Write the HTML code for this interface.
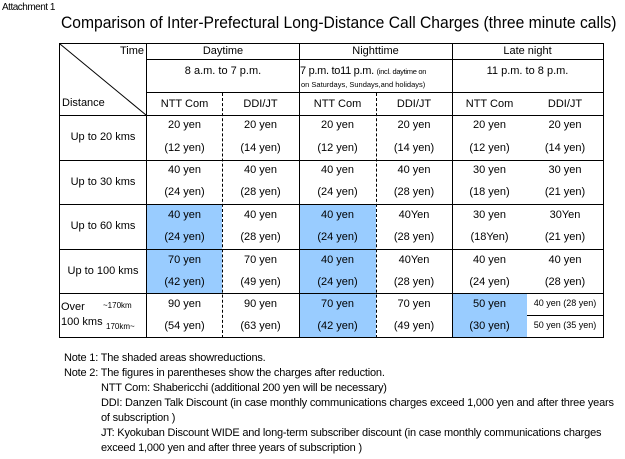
<!DOCTYPE html>
<html><head><meta charset="utf-8"><style>
body{margin:0;width:625px;height:459px;background:#fff;position:relative;overflow:hidden;font-family:"Liberation Sans",sans-serif;color:#000}
.a{position:absolute}
.h{position:absolute;height:1px;background:#000}
.v{position:absolute;width:1px;background:#000}
.d{position:absolute;width:0;border-left:1px dashed #000}
.c{position:absolute;text-align:center;font-size:11px;white-space:nowrap}
.s{position:absolute;background:#99ccff}
.n{position:absolute;font-size:11px;letter-spacing:-0.2px;white-space:nowrap}
</style></head><body>
<div class="a" style="left:2px;top:2px;font-size:10px;letter-spacing:-0.5px">Attachment 1</div>
<div class="a" style="left:61px;top:13px;font-size:17px;white-space:nowrap;transform:scaleX(0.92);transform-origin:0 0">Comparison of Inter-Prefectural Long-Distance Call Charges (three minute calls)</div>

<div class="s" style="left:147px;top:205px;width:75px;height:88px"></div>
<div class="s" style="left:299px;top:205px;width:77px;height:133px"></div>
<div class="s" style="left:452px;top:293px;width:75px;height:45px"></div>

<div class="h" style="left:59px;top:43px;width:545px"></div>
<div class="h" style="left:147px;top:59px;width:457px"></div>
<div class="h" style="left:147px;top:92px;width:457px"></div>
<div class="h" style="left:59px;top:115px;width:545px"></div>
<div class="h" style="left:59px;top:160px;width:545px"></div>
<div class="h" style="left:59px;top:204px;width:545px"></div>
<div class="h" style="left:59px;top:249px;width:545px"></div>
<div class="h" style="left:59px;top:293px;width:545px"></div>
<div class="h" style="left:527px;top:315px;width:77px"></div>
<div class="h" style="left:59px;top:337px;width:545px"></div>
<div class="v" style="left:59px;top:43px;height:295px"></div>
<div class="v" style="left:146px;top:43px;height:295px"></div>
<div class="v" style="left:299px;top:43px;height:295px"></div>
<div class="v" style="left:452px;top:43px;height:295px"></div>
<div class="v" style="left:603px;top:43px;height:295px"></div>
<div class="d" style="left:222px;top:93px;height:245px"></div>
<div class="d" style="left:376px;top:93px;height:245px"></div>
<svg class="a" style="left:0;top:0" width="625" height="459"><line x1="60" y1="44" x2="146" y2="115" stroke="#000" stroke-width="1"/></svg>

<div class="c" style="left:100px;top:45px;width:44px;text-align:right">Time</div>
<div class="c" style="left:62px;top:97px;text-align:left">Distance</div>
<div class="c" style="left:147px;top:45px;width:152px">Daytime</div>
<div class="c" style="left:299px;top:45px;width:153px">Nighttime</div>
<div class="c" style="left:452px;top:45px;width:151px">Late night</div>
<div class="c" style="left:147px;top:65px;width:152px">8 a.m. to 7 p.m.</div>
<div class="c" style="left:300px;top:65px;text-align:left;letter-spacing:-0.3px">7 p.m. to11 p.m. <span style="font-size:7.5px">(incl. daytime on</span></div>
<div class="c" style="left:301px;top:80px;text-align:left;font-size:7.5px">on Saturdays, Sundays,and holidays)</div>
<div class="c" style="left:452px;top:65px;width:151px">11 p.m. to 8 p.m.</div>
<div class="c" style="left:147px;top:98px;width:75px">NTT Com</div>
<div class="c" style="left:222px;top:98px;width:77px">DDI/JT</div>
<div class="c" style="left:299px;top:98px;width:77px">NTT Com</div>
<div class="c" style="left:376px;top:98px;width:76px">DDI/JT</div>
<div class="c" style="left:452px;top:98px;width:75px">NTT Com</div>
<div class="c" style="left:527px;top:98px;width:76px">DDI/JT</div>

<div class="c" style="left:59px;top:131px;width:88px">Up to 20 kms</div>
<div class="c" style="left:59px;top:176px;width:88px">Up to 30 kms</div>
<div class="c" style="left:59px;top:220px;width:88px">Up to 60 kms</div>
<div class="c" style="left:59px;top:265px;width:88px">Up to 100 kms</div>
<div class="c" style="left:61px;top:301px;text-align:left">Over</div>
<div class="c" style="left:61px;top:316px;text-align:left">100 kms</div>
<div class="c" style="left:103px;top:301px;font-size:8px">~170km</div>
<div class="c" style="left:106px;top:322px;font-size:8px">170km~</div>

<div class="c" style="left:147px;top:119px;width:75px">20 yen</div><div class="c" style="left:147px;top:142px;width:75px">(12 yen)</div>
<div class="c" style="left:222px;top:119px;width:77px">20 yen</div><div class="c" style="left:222px;top:142px;width:77px">(14 yen)</div>
<div class="c" style="left:299px;top:119px;width:77px">20 yen</div><div class="c" style="left:299px;top:142px;width:77px">(12 yen)</div>
<div class="c" style="left:376px;top:119px;width:76px">20 yen</div><div class="c" style="left:376px;top:142px;width:76px">(14 yen)</div>
<div class="c" style="left:452px;top:119px;width:75px">20 yen</div><div class="c" style="left:452px;top:142px;width:75px">(12 yen)</div>
<div class="c" style="left:527px;top:119px;width:76px">20 yen</div><div class="c" style="left:527px;top:142px;width:76px">(14 yen)</div>

<div class="c" style="left:147px;top:164px;width:75px">40 yen</div><div class="c" style="left:147px;top:186px;width:75px">(24 yen)</div>
<div class="c" style="left:222px;top:164px;width:77px">40 yen</div><div class="c" style="left:222px;top:186px;width:77px">(28 yen)</div>
<div class="c" style="left:299px;top:164px;width:77px">40 yen</div><div class="c" style="left:299px;top:186px;width:77px">(24 yen)</div>
<div class="c" style="left:376px;top:164px;width:76px">40 yen</div><div class="c" style="left:376px;top:186px;width:76px">(28 yen)</div>
<div class="c" style="left:452px;top:164px;width:75px">30 yen</div><div class="c" style="left:452px;top:186px;width:75px">(18 yen)</div>
<div class="c" style="left:527px;top:164px;width:76px">30 yen</div><div class="c" style="left:527px;top:186px;width:76px">(21 yen)</div>

<div class="c" style="left:147px;top:209px;width:75px">40 yen</div><div class="c" style="left:147px;top:231px;width:75px">(24 yen)</div>
<div class="c" style="left:222px;top:209px;width:77px">40 yen</div><div class="c" style="left:222px;top:231px;width:77px">(28 yen)</div>
<div class="c" style="left:299px;top:209px;width:77px">40 yen</div><div class="c" style="left:299px;top:231px;width:77px">(24 yen)</div>
<div class="c" style="left:376px;top:209px;width:76px">40Yen</div><div class="c" style="left:376px;top:231px;width:76px">(28 yen)</div>
<div class="c" style="left:452px;top:209px;width:75px">30 yen</div><div class="c" style="left:452px;top:231px;width:75px">(18Yen)</div>
<div class="c" style="left:527px;top:209px;width:76px">30Yen</div><div class="c" style="left:527px;top:231px;width:76px">(21 yen)</div>

<div class="c" style="left:147px;top:254px;width:75px">70 yen</div><div class="c" style="left:147px;top:276px;width:75px">(42 yen)</div>
<div class="c" style="left:222px;top:254px;width:77px">70 yen</div><div class="c" style="left:222px;top:276px;width:77px">(49 yen)</div>
<div class="c" style="left:299px;top:254px;width:77px">40 yen</div><div class="c" style="left:299px;top:276px;width:77px">(24 yen)</div>
<div class="c" style="left:376px;top:254px;width:76px">40Yen</div><div class="c" style="left:376px;top:276px;width:76px">(28 yen)</div>
<div class="c" style="left:452px;top:254px;width:75px">40 yen</div><div class="c" style="left:452px;top:276px;width:75px">(24 yen)</div>
<div class="c" style="left:527px;top:254px;width:76px">40 yen</div><div class="c" style="left:527px;top:276px;width:76px">(28 yen)</div>

<div class="c" style="left:147px;top:298px;width:75px">90 yen</div><div class="c" style="left:147px;top:320px;width:75px">(54 yen)</div>
<div class="c" style="left:222px;top:298px;width:77px">90 yen</div><div class="c" style="left:222px;top:320px;width:77px">(63 yen)</div>
<div class="c" style="left:299px;top:298px;width:77px">70 yen</div><div class="c" style="left:299px;top:320px;width:77px">(42 yen)</div>
<div class="c" style="left:376px;top:298px;width:76px">70 yen</div><div class="c" style="left:376px;top:320px;width:76px">(49 yen)</div>
<div class="c" style="left:452px;top:298px;width:75px">50 yen</div><div class="c" style="left:452px;top:320px;width:75px">(30 yen)</div>
<div class="c" style="left:527px;top:298px;width:76px;font-size:9px">40 yen (28 yen)</div>
<div class="c" style="left:527px;top:320px;width:76px;font-size:9px">50 yen (35 yen)</div>

<div class="n" style="left:64px;top:352px">Note 1: The shaded areas showreductions.</div>
<div class="n" style="left:64px;top:367px">Note 2: The figures in parentheses show the charges after reduction.</div>
<div class="n" style="left:101px;top:382px">NTT Com: Shabericchi (additional 200 yen will be necessary)</div>
<div class="n" style="left:101px;top:397px">DDI: Danzen Talk Discount (in case monthly communications charges exceed 1,000 yen and after three years</div>
<div class="n" style="left:101px;top:412px">of subscription )</div>
<div class="n" style="left:101px;top:427px">JT: Kyokuban Discount WIDE and long-term subscriber discount (in case monthly communications charges</div>
<div class="n" style="left:101px;top:442px">exceed 1,000 yen and after three years of subscription )</div>
</body></html>
